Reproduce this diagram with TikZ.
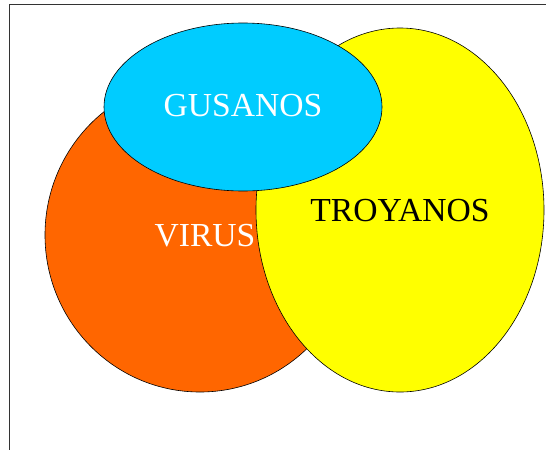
\documentclass[tikz,border=0pt]{standalone}
\usepackage{fontspec}
\setmainfont{Liberation Serif}
\definecolor{virusorange}{HTML}{FF6600}
\definecolor{troyyellow}{HTML}{FFFF00}
\definecolor{gusblue}{HTML}{00CCFF}
\begin{document}
\begin{tikzpicture}[x=1pt,y=-1pt,
  blob/.style={draw=black,line width=0.6pt},
  lbl/.style={font=\fontsize{33.6}{36}\selectfont,inner sep=0pt}]
\useasboundingbox (0,0) rectangle (546,450);
% frame edges
\draw[line width=1pt,black!80] (546,4) -- (9,4) -- (9,450);
% sets
\path[blob,fill=virusorange] (200,235) ellipse [x radius=155, y radius=157];
\path[blob,fill=troyyellow] (400,210) ellipse [x radius=144, y radius=182];
\path[blob,fill=gusblue] (243,107) ellipse [x radius=139, y radius=84];
% labels
\node[lbl,text=white] (gus) at (243,106) {GUSANOS};
\node[lbl,text=white] (vir) at (205,236) {VIRUS};
\node[lbl,text=black] (tro) at (400,211) {TROYANOS};
\end{tikzpicture}
\end{document}
